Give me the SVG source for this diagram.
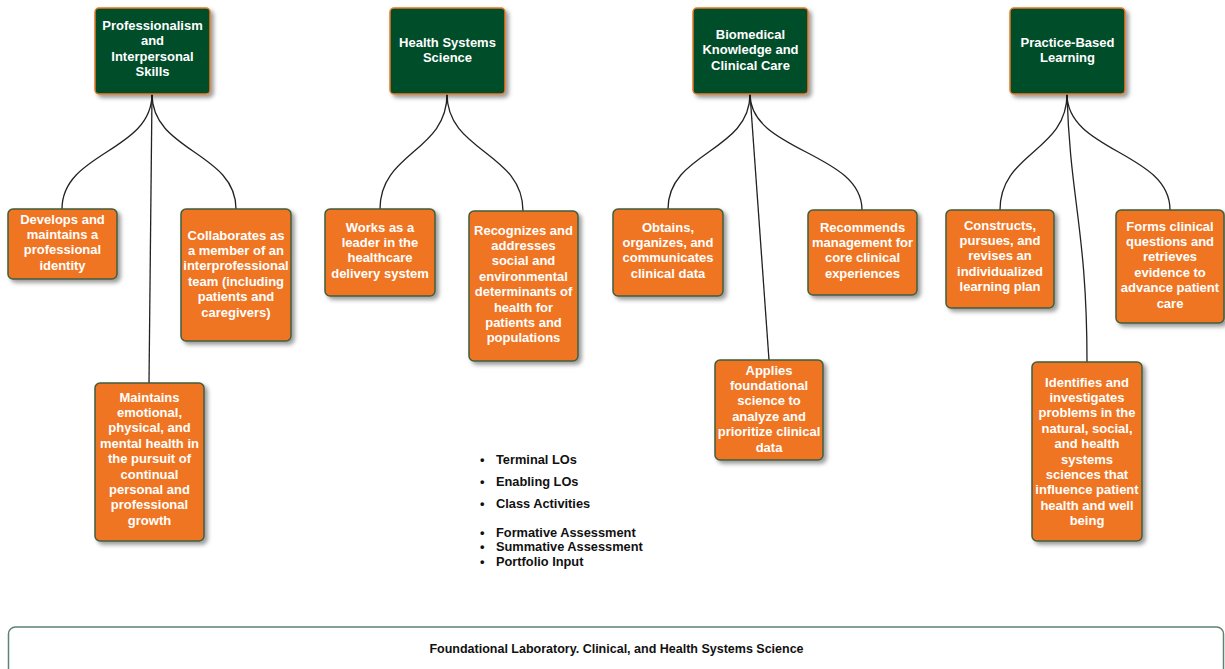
<svg xmlns="http://www.w3.org/2000/svg" width="1225" height="669" viewBox="0 0 1225 669">
<defs>
<filter id="sh" x="-20%" y="-20%" width="150%" height="150%">
<feDropShadow dx="3" dy="3" stdDeviation="2" flood-color="#000" flood-opacity="0.4"/>
</filter>
<style>
.top{fill:#044D2C;stroke:#E8782A;stroke-width:1.5;filter:url(#sh)}
.leaf{fill:#F07522;stroke:#3D5E3E;stroke-width:1.5;filter:url(#sh)}
.t{font-family:"Liberation Sans",Arial,sans-serif;font-weight:bold;font-size:13px;fill:#fff;text-anchor:middle}
.c{fill:none;stroke:#222;stroke-width:1.3}
.b{font-family:"Liberation Sans",Arial,sans-serif;font-weight:bold;font-size:12.8px;fill:#111}
.bar{fill:#fff;stroke:#5E8370;stroke-width:1.5}
.bt{font-family:"Liberation Sans",Arial,sans-serif;font-weight:bold;font-size:12.5px;fill:#111;text-anchor:middle}
</style>
</defs>
<rect width="1225" height="669" fill="#fff"/>
<g id="connectors">
<path class="c" d="M152,94 C152,152 62,152 62,209"/>
<path class="c" d="M152,94 C152,152 236,152 236,209"/>
<path class="c" d="M152,94 L149,383"/>
<path class="c" d="M447,94 C447,152 380,152 380,209"/>
<path class="c" d="M447,94 C447,152 523,152 523,211"/>
<path class="c" d="M750,94 C750,152 668,152 668,209"/>
<path class="c" d="M750,94 C750,152 862,152 862,210"/>
<path class="c" d="M750,94 L769,360"/>
<path class="c" d="M1067,94 C1067,152 1000,152 1000,210"/>
<path class="c" d="M1067,94 C1067,152 1170,152 1170,210"/>
<path class="c" d="M1067,94 C1070,200 1087,230 1087,362"/>
</g>
<g id="n-professionalism">
<rect class="top" x="95" y="8" width="115" height="86" rx="4"/>
<text class="t" x="152.5" y="29.5">Professionalism<tspan x="152.5" dy="15.5">and</tspan><tspan x="152.5" dy="15.5">Interpersonal</tspan><tspan x="152.5" dy="15.5">Skills</tspan></text>
</g>
<g id="n-health-systems">
<rect class="top" x="390" y="8" width="115" height="86" rx="4"/>
<text class="t" x="447.5" y="46.5">Health Systems<tspan x="447.5" dy="15.5">Science</tspan></text>
</g>
<g id="n-biomedical">
<rect class="top" x="693" y="8" width="115" height="86" rx="4"/>
<text class="t" x="750.5" y="38.5">Biomedical<tspan x="750.5" dy="15.5">Knowledge and</tspan><tspan x="750.5" dy="15.5">Clinical Care</tspan></text>
</g>
<g id="n-practice">
<rect class="top" x="1010" y="8" width="115" height="86" rx="4"/>
<text class="t" x="1067.5" y="46.5">Practice-Based<tspan x="1067.5" dy="15.5">Learning</tspan></text>
</g>
<g id="n-develops">
<rect class="leaf" x="8" y="209" width="109" height="70" rx="5"/>
<text class="t" x="62.5" y="223.5">Develops and<tspan x="62.5" dy="15.4">maintains a</tspan><tspan x="62.5" dy="15.4">professional</tspan><tspan x="62.5" dy="15.4">identity</tspan></text>
</g>
<g id="n-collaborates">
<rect class="leaf" x="181" y="209" width="110" height="132" rx="5"/>
<text class="t" x="236" y="239.5">Collaborates as<tspan x="236" dy="15.4">a member of an</tspan><tspan x="236" dy="15.4">interprofessional</tspan><tspan x="236" dy="15.4">team (including</tspan><tspan x="236" dy="15.4">patients and</tspan><tspan x="236" dy="15.4">caregivers)</tspan></text>
</g>
<g id="n-maintains">
<rect class="leaf" x="95" y="383" width="109" height="158" rx="5"/>
<text class="t" x="149.5" y="401.5">Maintains<tspan x="149.5" dy="15.4">emotional,</tspan><tspan x="149.5" dy="15.4">physical, and</tspan><tspan x="149.5" dy="15.4">mental health in</tspan><tspan x="149.5" dy="15.4">the pursuit of</tspan><tspan x="149.5" dy="15.4">continual</tspan><tspan x="149.5" dy="15.4">personal and</tspan><tspan x="149.5" dy="15.4">professional</tspan><tspan x="149.5" dy="15.4">growth</tspan></text>
</g>
<g id="n-works">
<rect class="leaf" x="325" y="209" width="110" height="87" rx="5"/>
<text class="t" x="380" y="231.5">Works as a<tspan x="380" dy="15.4">leader in the</tspan><tspan x="380" dy="15.4">healthcare</tspan><tspan x="380" dy="15.4">delivery system</tspan></text>
</g>
<g id="n-recognizes">
<rect class="leaf" x="469" y="211" width="109" height="150" rx="5"/>
<text class="t" x="523.5" y="234.5">Recognizes and<tspan x="523.5" dy="15.4">addresses</tspan><tspan x="523.5" dy="15.4">social and</tspan><tspan x="523.5" dy="15.4">environmental</tspan><tspan x="523.5" dy="15.4">determinants of</tspan><tspan x="523.5" dy="15.4">health for</tspan><tspan x="523.5" dy="15.4">patients and</tspan><tspan x="523.5" dy="15.4">populations</tspan></text>
</g>
<g id="n-obtains">
<rect class="leaf" x="613" y="209" width="110" height="87" rx="5"/>
<text class="t" x="668" y="231.5">Obtains,<tspan x="668" dy="15.4">organizes, and</tspan><tspan x="668" dy="15.4">communicates</tspan><tspan x="668" dy="15.4">clinical data</tspan></text>
</g>
<g id="n-recommends">
<rect class="leaf" x="808" y="210" width="109" height="85" rx="5"/>
<text class="t" x="862.5" y="231.5">Recommends<tspan x="862.5" dy="15.4">management for</tspan><tspan x="862.5" dy="15.4">core clinical</tspan><tspan x="862.5" dy="15.4">experiences</tspan></text>
</g>
<g id="n-applies">
<rect class="leaf" x="715" y="360" width="108" height="100" rx="5"/>
<text class="t" x="769" y="374.5">Applies<tspan x="769" dy="15.4">foundational</tspan><tspan x="769" dy="15.4">science to</tspan><tspan x="769" dy="15.4">analyze and</tspan><tspan x="769" dy="15.4">prioritize clinical</tspan><tspan x="769" dy="15.4">data</tspan></text>
</g>
<g id="n-constructs">
<rect class="leaf" x="946" y="210" width="108" height="98" rx="5"/>
<text class="t" x="1000" y="229.5">Constructs,<tspan x="1000" dy="15.4">pursues, and</tspan><tspan x="1000" dy="15.4">revises an</tspan><tspan x="1000" dy="15.4">individualized</tspan><tspan x="1000" dy="15.4">learning plan</tspan></text>
</g>
<g id="n-forms">
<rect class="leaf" x="1116" y="210" width="108" height="113" rx="5"/>
<text class="t" x="1170" y="230.5">Forms clinical<tspan x="1170" dy="15.4">questions and</tspan><tspan x="1170" dy="15.4">retrieves</tspan><tspan x="1170" dy="15.4">evidence to</tspan><tspan x="1170" dy="15.4">advance patient</tspan><tspan x="1170" dy="15.4">care</tspan></text>
</g>
<g id="n-identifies">
<rect class="leaf" x="1032" y="362" width="110" height="179" rx="5"/>
<text class="t" x="1087" y="386.5">Identifies and<tspan x="1087" dy="15.4">investigates</tspan><tspan x="1087" dy="15.4">problems in the</tspan><tspan x="1087" dy="15.4">natural, social,</tspan><tspan x="1087" dy="15.4">and health</tspan><tspan x="1087" dy="15.4">systems</tspan><tspan x="1087" dy="15.4">sciences that</tspan><tspan x="1087" dy="15.4">influence patient</tspan><tspan x="1087" dy="15.4">health and well</tspan><tspan x="1087" dy="15.4">being</tspan></text>
</g>
<g id="legend">
<text class="b" x="480" y="463.5">•</text><text class="b" x="496" y="463.5">Terminal LOs</text>
<text class="b" x="480" y="486">•</text><text class="b" x="496" y="486">Enabling LOs</text>
<text class="b" x="480" y="507.5">•</text><text class="b" x="496" y="507.5">Class Activities</text>
<text class="b" x="480" y="536.5">•</text><text class="b" x="496" y="536.5">Formative Assessment</text>
<text class="b" x="480" y="551">•</text><text class="b" x="496" y="551">Summative Assessment</text>
<text class="b" x="480" y="565.5">•</text><text class="b" x="496" y="565.5">Portfolio Input</text>
</g>
<g id="n-foundational">
<rect class="bar" x="8.5" y="627" width="1215" height="60" rx="7"/>
<text class="bt" x="616.5" y="652.5">Foundational Laboratory. Clinical, and Health Systems Science</text>
</g>
</svg>
